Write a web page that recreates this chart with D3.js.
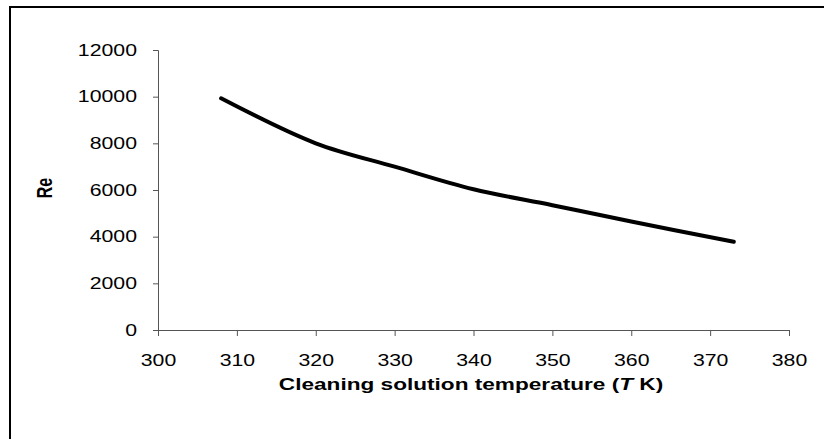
<!DOCTYPE html>
<html>
<head>
<meta charset="utf-8">
<script src="https://cdn.jsdelivr.net/npm/d3@7"></script>
<style>
  html, body { margin: 0; padding: 0; background: #fff; }
  svg { display: block; }
</style>
</head>
<body>
<script>
"use strict";

// data
const temperature = [308, 320, 330, 340, 350, 360, 373];
const reynolds = [9930, 8000, 7000, 6030, 5350, 4650, 3780];
const xTicks = [300, 310, 320, 330, 340, 350, 360, 370, 380];
const yTicks = [0, 2000, 4000, 6000, 8000, 10000, 12000];

const width = 824, height = 439;
const margin = { left: 158, right: 35, top: 50, bottom: 109 };
// the reference text is drawn wide, so stretch it sideways
const stretch = 1.33;

let svg = d3.select("body").append("svg")
	.attr("width", width)
	.attr("height", height);

svg.append("rect").attr("width", width).attr("height", height).attr("fill", "white");

// outer frame (right and bottom fall off the picture)
svg.append("rect")
	.attr("x", 10).attr("y", 7)
	.attr("width", width + 20).attr("height", height + 20)
	.attr("fill", "none").attr("stroke", "black").attr("stroke-width", 2);

let x = d3.scaleLinear().domain([300, 380]).range([margin.left, width - margin.right]);
let y = d3.scaleLinear().domain([0, 12000]).range([height - margin.bottom, margin.top]);

let font = "'Liberation Sans', Arial, sans-serif";

//x axis
let gx = svg.append("g")
	.attr("transform", "translate(0," + y(0) + ")")
	.call(d3.axisBottom(x).tickValues(xTicks).tickSize(6).tickPadding(19).tickFormat(d3.format("d")));
//y axis
let gy = svg.append("g")
	.attr("transform", "translate(" + x(300) + ",0)")
	.call(d3.axisLeft(y).tickValues(yTicks).tickSize(5).tickPadding(17).tickFormat(d3.format("d")));

[gx, gy].forEach(function(g) {
	g.select(".domain").attr("stroke", "#555");
	g.selectAll(".tick line").attr("stroke", "#555");
	g.selectAll(".tick text")
		.attr("fill", "black")
		.attr("transform", "scale(" + stretch + ",1)")
		.style("font-family", font)
		.style("font-size", "16px");
});
gy.selectAll(".tick text").attr("x", -21 / stretch);

// curve
let line = d3.line()
	.x(function(d, i) { return x(temperature[i]); })
	.y(function(d) { return y(d); })
	.curve(d3.curveCatmullRom);

svg.append("path")
	.datum(reynolds)
	.attr("d", line)
	.attr("fill", "none")
	.attr("stroke", "black")
	.attr("stroke-width", 4)
	.attr("stroke-linecap", "round")
	.attr("stroke-linejoin", "round");

//axis titles
let xt = svg.append("text")
	.attr("transform", "translate(471,390) scale(" + stretch + ",1)")
	.attr("text-anchor", "middle")
	.style("font-family", font)
	.style("font-size", "17px")
	.style("font-weight", "bold");
xt.append("tspan").text("Cleaning solution temperature (");
xt.append("tspan").style("font-style", "italic").text("T");
xt.append("tspan").text(" K)");

svg.append("text")
	.attr("transform", "translate(52,188) scale(" + stretch + ",1) rotate(-90)")
	.attr("text-anchor", "middle")
	.style("font-family", font)
	.style("font-size", "16px")
	.style("font-weight", "bold")
	.text("Re");
</script>
</body>
</html>
